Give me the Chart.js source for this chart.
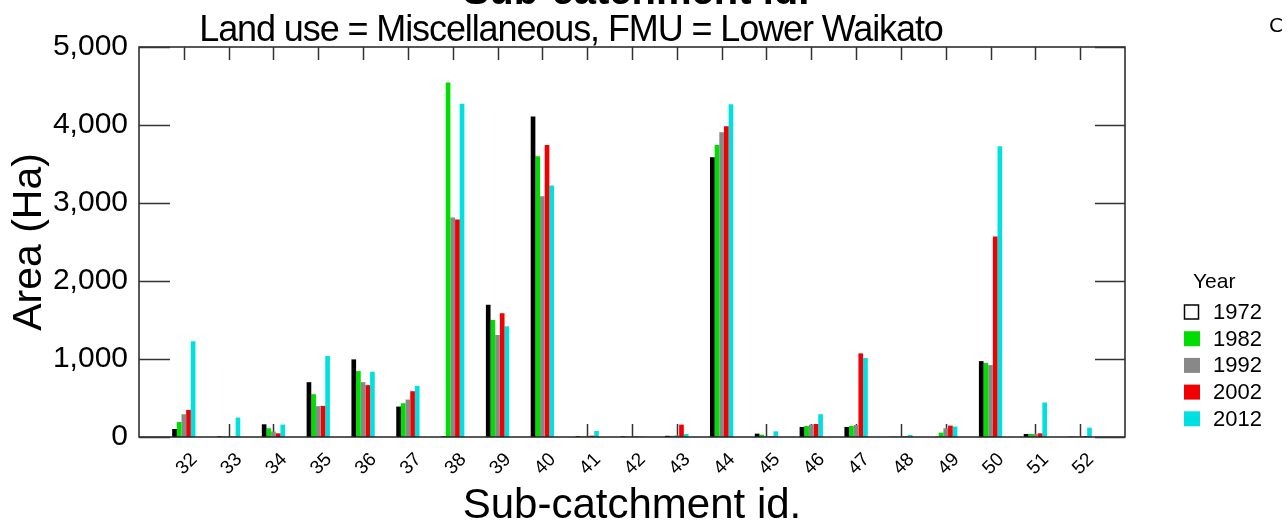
<!DOCTYPE html>
<html>
<head>
<meta charset="utf-8">
<script src="https://cdn.jsdelivr.net/npm/chart.js@4/dist/chart.umd.min.js"></script>
<style>
  html, body { margin: 0; padding: 0; background: #fff; }
  #wrap { width: 1287px; height: 528px; }
</style>
</head>
<body>
<div id="wrap"><canvas id="areaChart" width="1287" height="528"></canvas></div>
<script>
// sub-catchment ids and area (Ha) per survey year
var categories = [32, 33, 34, 35, 36, 37, 38, 39, 40, 41, 42, 43, 44, 45, 46, 47, 48, 49, 50, 51, 52];
var years = ['1972', '1982', '1992', '2002', '2012'];
var area1972 = [103, 8, 163, 703, 995, 390, 8, 1694, 4108, 10, 8, 15, 3585, 43, 129, 129, 3, 2, 973, 39, 4];
var area1982 = [193, 5, 112, 549, 845, 433, 4545, 1501, 3598, 8, 6, 15, 3744, 30, 142, 142, 5, 56, 948, 39, 4];
var area1992 = [292, 5, 69, 395, 703, 480, 2813, 1308, 3087, 8, 6, 20, 3907, 8, 159, 154, 5, 112, 922, 39, 4];
var area2002 = [348, 5, 47, 399, 665, 587, 2787, 1587, 3744, 17, 6, 159, 3984, 8, 167, 1072, 8, 146, 2569, 47, 13];
var area2012 = [1227, 249, 159, 1038, 836, 656, 4271, 1419, 3225, 77, 6, 39, 4267, 73, 292, 1012, 26, 133, 3727, 442, 120];
var yTicks = [0, 1000, 2000, 3000, 4000, 5000];

var colors = ['#000000', '#00DD00', '#888888', '#F00000', '#00E0E0'];
var FONT = "'Liberation Sans', Arial, sans-serif";

// blank slot on each end so the axis runs from 31 to 53
var labels = [''].concat(categories.map(String), ['']);
function pad(arr) { return [null].concat(arr, [null]); }
var series = [area1972, area1982, area1992, area2002, area2012];

Chart.defaults.font.family = FONT;
Chart.defaults.color = '#000';

var decor = {
    id: 'decor',
    beforeDatasetsDraw: function (chart) {
        var ctx = chart.ctx, a = chart.chartArea, x = chart.scales.x;
        ctx.save();
        ctx.strokeStyle = '#333';
        ctx.lineWidth = 1.5;
        categories.forEach(function (c) {
            var px = Math.round(x.getPixelForValue(labels.indexOf(String(c)))) + 0.5;
            ctx.beginPath();
            ctx.moveTo(px, a.bottom);
            ctx.lineTo(px, a.bottom - 13);
            ctx.stroke();
        });
        ctx.restore();
    },
    afterDraw: function (chart) {
        var ctx = chart.ctx, a = chart.chartArea, x = chart.scales.x, y = chart.scales.y;
        ctx.save();
        // frame
        ctx.strokeStyle = '#222';
        ctx.lineWidth = 1.5;
        ctx.strokeRect(a.left, a.top, a.right - a.left, a.bottom - a.top);
        // top ticks
        ctx.strokeStyle = '#333';
        categories.forEach(function (c) {
            var px = Math.round(x.getPixelForValue(labels.indexOf(String(c)))) + 0.5;
            ctx.beginPath();
            ctx.moveTo(px, a.top);
            ctx.lineTo(px, a.top + 13);
            ctx.stroke();
        });
        // left and right ticks
        yTicks.forEach(function (v) {
            var py = Math.round(y.getPixelForValue(v)) + 0.5;
            ctx.beginPath();
            ctx.moveTo(a.left, py);
            ctx.lineTo(a.left + 31, py);
            ctx.moveTo(a.right - 30, py);
            ctx.lineTo(a.right, py);
            ctx.stroke();
        });
        // x tick labels, rotated
        ctx.fillStyle = '#000';
        ctx.font = '19px ' + FONT;
        ctx.textAlign = 'center';
        ctx.textBaseline = 'middle';
        categories.forEach(function (c) {
            var px = x.getPixelForValue(labels.indexOf(String(c)));
            ctx.save();
            ctx.translate(px + 3, 464);
            ctx.rotate(-Math.PI / 4);
            ctx.fillText(String(c), 0, 0);
            ctx.restore();
        });
        // titles
        ctx.textBaseline = 'alphabetic';
        ctx.font = 'bold 40px ' + FONT;
        ctx.fillText('Sub-catchment id.', 636, 4);
        ctx.font = '36px ' + FONT;
        ctx.letterSpacing = '-1.1px';
        ctx.fillText('Land use = Miscellaneous, FMU = Lower Waikato', 571, 41);
        ctx.letterSpacing = '0px';
        ctx.textAlign = 'left';
        ctx.font = '20px ' + "'DejaVu Sans', sans-serif";
        ctx.fillText('C', 1269, 32);
        // legend
        ctx.font = '21px ' + FONT;
        ctx.fillText('Year', 1193, 288);
        ctx.textBaseline = 'middle';
        ctx.font = '22px ' + FONT;
        chart.data.datasets.forEach(function (ds, i) {
            var cy = 312 + i * 26.7;
            if (i === 0) {
                ctx.fillStyle = '#fff';
                ctx.fillRect(1184, cy - 7.5, 15, 15);
                ctx.strokeStyle = '#000';
                ctx.lineWidth = 1.5;
                ctx.strokeRect(1184.5, cy - 7, 14, 14);
            } else {
                ctx.fillStyle = ds.backgroundColor;
                ctx.fillRect(1184, cy - 7.5, 16, 15);
            }
            ctx.fillStyle = '#000';
            ctx.fillText(ds.label, 1213, cy + 1);
        });
        ctx.restore();
    }
};

var ctx = document.getElementById('areaChart').getContext('2d');
var chart = new Chart(ctx, {
    type: 'bar',
    data: {
        labels: labels,
        datasets: years.map(function (yr, i) {
            return {
                label: yr,
                data: pad(series[i]),
                backgroundColor: colors[i],
                borderWidth: 0,
                categoryPercentage: 0.52,
                barPercentage: 1.0
            };
        })
    },
    options: {
        responsive: false,
        animation: false,
        layout: { padding: { top: 47, right: 162, left: 0, bottom: 0 } },
        plugins: {
            legend: { display: false },
            tooltip: { enabled: false }
        },
        scales: {
            x: {
                offset: false,
                grid: { display: false, drawTicks: false },
                border: { display: false },
                ticks: { display: false },
                title: {
                    display: true,
                    text: 'Sub-catchment id.',
                    font: { size: 42, lineHeight: 1 },
                    padding: { top: 0, bottom: 1 }
                },
                afterFit: function (s) { s.height = 91; }
            },
            y: {
                min: 0,
                max: 5000,
                grid: { display: false, drawTicks: false },
                border: { display: false },
                ticks: {
                    stepSize: 1000,
                    padding: 11,
                    font: { size: 30 },
                    callback: function (v) { return v.toLocaleString('en-US'); }
                },
                title: {
                    display: true,
                    text: 'Area (Ha)',
                    font: { size: 41, lineHeight: 1 },
                    padding: { top: 9, bottom: 0 }
                },
                afterFit: function (s) { s.width = 139; }
            }
        }
    },
    plugins: [decor]
});
</script>
</body>
</html>
